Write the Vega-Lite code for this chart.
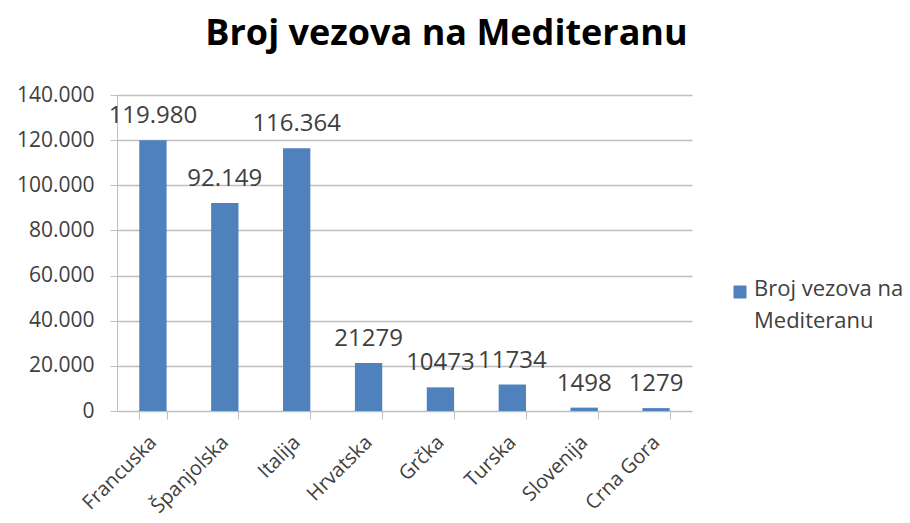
{
  "$schema": "https://vega.github.io/schema/vega-lite/v6.json",
  "autosize": "none",
  "width": 575,
  "height": 316,
  "padding": {"left": 117, "top": 95, "right": 218, "bottom": 112},
  "background": "white",
  "title": {
    "text": "Broj vezova na Mediteranu",
    "fontSize": 36,
    "font": "Open Sans",
    "fontWeight": "bold",
    "color": "#000000",
    "anchor": "middle",
    "dx": 42,
    "offset": 31
  },
  "config": {
    "view": {"stroke": null},
    "font": "Open Sans"
  },
  "data": {
    "values": [
      {"zemlja": "Francuska", "vezovi": 119980, "oznaka": "119.980", "serija": "Broj vezova na Mediteranu"},
      {"zemlja": "Španjolska", "vezovi": 92149, "oznaka": "92.149", "serija": "Broj vezova na Mediteranu"},
      {"zemlja": "Italija", "vezovi": 116364, "oznaka": "116.364", "serija": "Broj vezova na Mediteranu"},
      {"zemlja": "Hrvatska", "vezovi": 21279, "oznaka": "21279", "serija": "Broj vezova na Mediteranu"},
      {"zemlja": "Grčka", "vezovi": 10473, "oznaka": "10473", "serija": "Broj vezova na Mediteranu"},
      {"zemlja": "Turska", "vezovi": 11734, "oznaka": "11734", "serija": "Broj vezova na Mediteranu"},
      {"zemlja": "Slovenija", "vezovi": 1498, "oznaka": "1498", "serija": "Broj vezova na Mediteranu"},
      {"zemlja": "Crna Gora", "vezovi": 1279, "oznaka": "1279", "serija": "Broj vezova na Mediteranu"}
    ]
  },
  "encoding": {
    "x": {
      "field": "zemlja",
      "type": "nominal",
      "sort": null,
      "scale": {"paddingInner": 0.62, "paddingOuter": 0.31},
      "axis": {
        "title": null,
        "labelAngle": -45,
        "labelAlign": "right",
        "labelBaseline": "middle",
        "labelFontSize": 20,
        "labelColor": "#404040",
        "labelPadding": 20,
        "tickBand": "extent",
        "tickColor": "#bfbfbf",
        "tickSize": 8,
        "domainColor": "#bfbfbf",
        "grid": false
      }
    },
    "y": {
      "field": "vezovi",
      "type": "quantitative",
      "scale": {"domain": [0, 140000], "nice": false},
      "axis": {
        "title": null,
        "values": [0, 20000, 40000, 60000, 80000, 100000, 120000, 140000],
        "labelExpr": "replace(format(datum.value, ',d'), ',', '.')",
        "labelFontSize": 21,
        "labelColor": "#404040",
        "labelPadding": 16,
        "tickColor": "#bfbfbf",
        "tickSize": 7,
        "domainColor": "#bfbfbf",
        "gridColor": "#bfbfbf",
        "gridWidth": 1.5
      }
    }
  },
  "layer": [
    {
      "mark": {"type": "bar", "color": "#4F81BD"},
      "encoding": {
        "color": {
          "field": "serija",
          "type": "nominal",
          "scale": {"range": ["#4F81BD"]},
          "legend": {
            "title": null,
            "orient": "none",
            "legendX": 612,
            "legendY": 186,
            "symbolType": "square",
            "symbolSize": 169,
            "symbolStrokeWidth": 0,
            "labelFontSize": 22,
            "labelColor": "#404040",
            "labelOffset": 3,
            "labelExpr": "['Broj vezova na', 'Mediteranu']",
            "labelLimit": 300,
            "labelBaseline": "top",
            "encode": {
              "labels": {"update": {"lineHeight": {"value": 32}, "dy": {"value": -13}}}
            }
          }
        }
      }
    },
    {
      "mark": {"type": "text", "dy": -17, "baseline": "alphabetic", "fontSize": 24, "color": "#404040"},
      "encoding": {
        "text": {"field": "oznaka"}
      }
    }
  ]
}
